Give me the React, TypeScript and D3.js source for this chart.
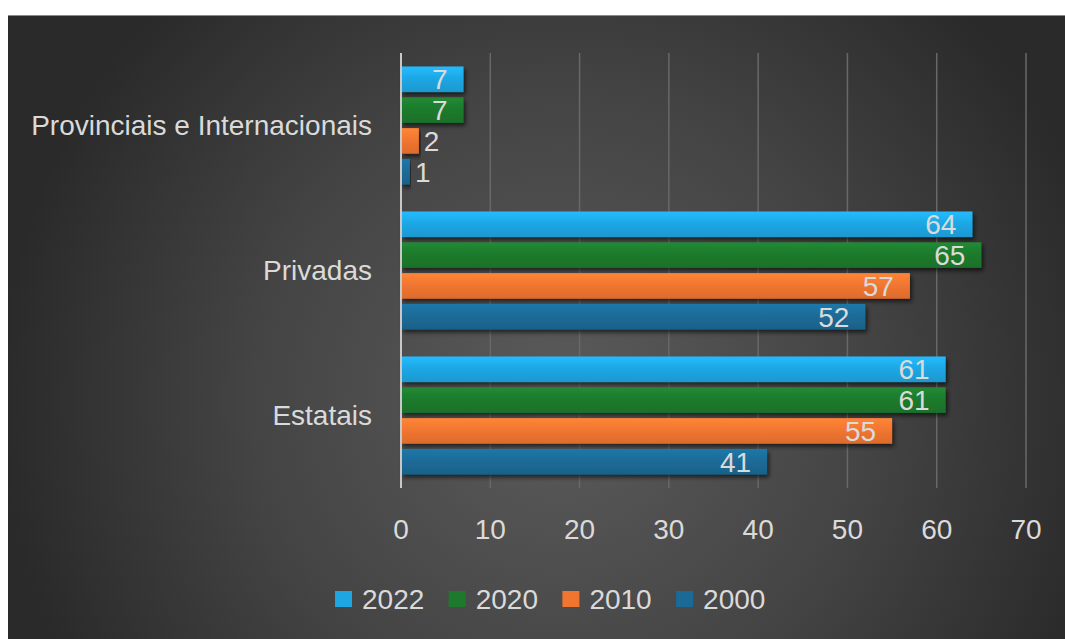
import React from 'react';
import * as d3 from 'd3';

const categories = ['Provinciais e Internacionais', 'Privadas', 'Estatais'];
const years = ['2022', '2020', '2010', '2000'];
const values2022 = [7, 64, 61];
const values2020 = [7, 65, 61];
const values2010 = [2, 57, 55];
const values2000 = [1, 52, 41];
const xTicks = [0, 10, 20, 30, 40, 50, 60, 70];

const seriesValues = [values2022, values2020, values2010, values2000];
const colors = ['#1ea6e3', '#1d7a2c', '#f07530', '#1b6a96'];

const W = 1065;
const H = 639;
const font = '"Liberation Sans", Arial, sans-serif';
const textColor = '#dadada';

const App = () => {
    const x = d3.scaleLinear().domain([0, 70]).range([401, 1026]);
    const y0 = d3.scaleBand<string>().domain(categories).range([53, 488]).paddingInner(0.186).paddingOuter(0.093);
    const y1 = d3.scaleBand<string>().domain(years).range([0, y0.bandwidth()]).paddingInner(0.17);

    return (
        <svg width={W} height={H} style={{ position: 'absolute', left: 0, top: 0 }}>
            <defs>
                <radialGradient id="bg" gradientUnits="userSpaceOnUse" cx={560} cy={400} r={560}>
                    <stop offset="0" stopColor="#5b5b5b" />
                    <stop offset="0.55" stopColor="#444444" />
                    <stop offset="1" stopColor="#2a2a2a" />
                </radialGradient>
                {colors.map((c, i) => (
                    <linearGradient key={i} id={`bar${i}`} x1="0" y1="0" x2="0" y2="1">
                        <stop offset="0" stopColor={d3.color(c)!.brighter(0.35).formatHex()} />
                        <stop offset="0.5" stopColor={c} />
                        <stop offset="1" stopColor={d3.color(c)!.darker(0.25).formatHex()} />
                    </linearGradient>
                ))}
                <filter id="shadow" x="-5%" y="-20%" width="115%" height="160%">
                    <feDropShadow dx="2" dy="3" stdDeviation="2" floodColor="#000" floodOpacity="0.6" />
                </filter>
            </defs>
            <rect x={0} y={0} width={W} height={H} fill="#ffffff" />
            <rect x={8} y={15} width={W - 8} height={H - 15} fill="url(#bg)" />
            <line x1={8} x2={W} y1={15.5} y2={15.5} stroke="#8a8a8a" strokeWidth={1} />

            {xTicks.map((t) => (
                <g key={t}>
                    {t > 0 && (
                        <line x1={x(t)} x2={x(t)} y1={53} y2={488} stroke="#686868" strokeWidth={1.5} />
                    )}
                    <text x={x(t)} y={539} textAnchor="middle" fill={textColor}
                        fontFamily={font} fontSize={28}>{t}</text>
                </g>
            ))}

            {categories.map((cat, ci) => (
                <g key={cat}>
                    <text x={372} y={(y0(cat) ?? 0) + y0.bandwidth() / 2} dy="0.35em" textAnchor="end"
                        fill={textColor} fontFamily={font} fontSize={28}>{cat}</text>
                    {years.map((yr, si) => {
                        const v = seriesValues[si][ci];
                        const by = (y0(cat) ?? 0) + (y1(yr) ?? 0);
                        const bw = x(v) - x(0);
                        const inside = bw > 40;
                        return (
                            <g key={yr}>
                                <rect x={x(0)} y={by} width={bw} height={y1.bandwidth()}
                                    fill={`url(#bar${si})`} filter="url(#shadow)" />
                                <text x={inside ? x(v) - 16 : x(v) + 5} y={by + y1.bandwidth() / 2} dy="0.36em"
                                    textAnchor={inside ? 'end' : 'start'} fill={textColor}
                                    fontFamily={font} fontSize={28}>{v}</text>
                            </g>
                        );
                    })}
                </g>
            ))}

            <line x1={x(0)} x2={x(0)} y1={53} y2={488} stroke="#c8c8c8" strokeWidth={2} />

            {years.map((yr, i) => {
                const lx = 335 + i * 113.7;
                return (
                    <g key={yr}>
                        <rect x={lx} y={591} width={17} height={16} fill={colors[i]} />
                        <text x={lx + 27} y={599} dy="0.36em" fill={textColor}
                            fontFamily={font} fontSize={28}>{yr}</text>
                    </g>
                );
            })}
        </svg>
    );
};

export default App;
